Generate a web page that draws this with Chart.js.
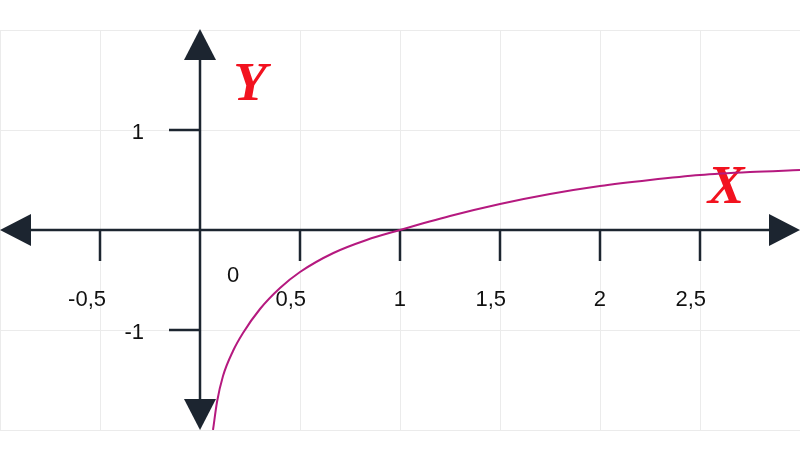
<!DOCTYPE html>
<html>
<head>
<meta charset="utf-8">
<script src="https://cdn.jsdelivr.net/npm/chart.js@4"></script>
<style>
  html, body { margin: 0; padding: 0; background: #fff; }
  #wrap { width: 800px; height: 458px; position: relative; }
</style>
</head>
<body>
<div id="wrap"><canvas id="graphChart"></canvas></div>
<script>
// curve
const curveX = [0.065, 0.085, 0.115, 0.165, 0.215, 0.3, 0.4, 0.5, 0.667, 0.833, 1, 1.25, 1.5, 1.75, 2, 2.25, 2.5, 2.75, 3];
const curveY = [-2.0, -1.72, -1.46, -1.21, -1.03, -0.79, -0.58, -0.42, -0.23, -0.10, 0, 0.14, 0.26, 0.36, 0.44, 0.50, 0.55, 0.58, 0.60];

const xTicks = [-0.5, 0.5, 1, 1.5, 2, 2.5];
const xTickLabels = ['-0,5', '0,5', '1', '1,5', '2', '2,5'];
const yTicks = [1, -1];
const yTickLabels = ['1', '-1'];

const axisColor = '#1c2530';
const curveColor = '#b5197f';
const letterColor = '#f2121f';

function arrow(ctx, tipX, tipY, dir) {
  // dir: 'left' | 'right' | 'up' | 'down'
  const len = 31, half = 16;
  ctx.beginPath();
  if (dir === 'left') {
    ctx.moveTo(tipX, tipY); ctx.lineTo(tipX + len, tipY - half); ctx.lineTo(tipX + len, tipY + half);
  } else if (dir === 'right') {
    ctx.moveTo(tipX, tipY); ctx.lineTo(tipX - len, tipY - half); ctx.lineTo(tipX - len, tipY + half);
  } else if (dir === 'up') {
    ctx.moveTo(tipX, tipY); ctx.lineTo(tipX - half, tipY + len); ctx.lineTo(tipX + half, tipY + len);
  } else {
    ctx.moveTo(tipX, tipY); ctx.lineTo(tipX - half, tipY - len); ctx.lineTo(tipX + half, tipY - len);
  }
  ctx.closePath();
  ctx.fill();
}

const axesPlugin = {
  id: 'axesPlugin',
  beforeDatasetsDraw(chart) {
    const { ctx, chartArea, scales } = chart;
    const xs = scales.x, ys = scales.y;
    const x0 = xs.getPixelForValue(0);
    const y0 = ys.getPixelForValue(0);
    ctx.save();
    ctx.strokeStyle = axisColor;
    ctx.fillStyle = axisColor;
    ctx.lineWidth = 2.5;

    // axes lines
    ctx.beginPath();
    ctx.moveTo(chartArea.left + 20, y0); ctx.lineTo(chartArea.right - 20, y0);
    ctx.moveTo(x0, chartArea.top + 20); ctx.lineTo(x0, chartArea.bottom - 20);
    ctx.stroke();

    // ticks
    ctx.beginPath();
    xTicks.forEach(v => {
      const px = xs.getPixelForValue(v);
      ctx.moveTo(px, y0); ctx.lineTo(px, y0 + 31);
    });
    yTicks.forEach(v => {
      const py = ys.getPixelForValue(v);
      ctx.moveTo(x0 - 31, py); ctx.lineTo(x0, py);
    });
    ctx.stroke();

    // arrow heads
    arrow(ctx, chartArea.left, y0, 'left');
    arrow(ctx, chartArea.right, y0, 'right');
    arrow(ctx, x0, chartArea.top - 1, 'up');
    arrow(ctx, x0, chartArea.bottom, 'down');

    // tick labels
    ctx.fillStyle = '#111';
    ctx.font = '22px "Liberation Sans", Arial, sans-serif';
    ctx.textBaseline = 'middle';
    ctx.textAlign = 'right';
    xTicks.forEach((v, i) => {
      ctx.fillText(xTickLabels[i], xs.getPixelForValue(v) + 6, y0 + 70);
    });
    yTicks.forEach((v, i) => {
      ctx.fillText(yTickLabels[i], x0 - 56, ys.getPixelForValue(v) + 3);
    });
    ctx.textAlign = 'center';
    ctx.fillText('0', x0 + 33, y0 + 46);

    // axis names
    ctx.fillStyle = letterColor;
    ctx.font = 'italic bold 55px "Liberation Serif", "Times New Roman", serif';
    ctx.fillText('Y', x0 + 50, ys.getPixelForValue(1.44));
    ctx.fillText('X', xs.getPixelForValue(2.63), ys.getPixelForValue(0.41));
    ctx.restore();
  }
};

const ctx = document.getElementById('graphChart').getContext('2d');

new Chart(ctx, {
  type: 'scatter',
  data: {
    datasets: [
      {
        data: curveX.map((x, i) => ({ x: x, y: curveY[i] })),
        showLine: true,
        borderColor: curveColor,
        borderWidth: 2,
        pointRadius: 0,
        cubicInterpolationMode: 'monotone',
        fill: false
      }
    ]
  },
  options: {
    responsive: true,
    maintainAspectRatio: false,
    animation: false,
    layout: { padding: { top: 30, bottom: 28, left: 0, right: 0 } },
    plugins: {
      legend: { display: false },
      tooltip: { enabled: false }
    },
    scales: {
      x: {
        type: 'linear',
        min: -1,
        max: 3,
        ticks: { display: false, stepSize: 0.5 },
        grid: { color: '#ebebeb', lineWidth: 1, drawTicks: false },
        border: { display: false }
      },
      y: {
        type: 'linear',
        min: -2,
        max: 2,
        ticks: { display: false, stepSize: 1 },
        grid: { color: '#ebebeb', lineWidth: 1, drawTicks: false },
        border: { display: false }
      }
    }
  },
  plugins: [axesPlugin]
});
</script>
</body>
</html>
